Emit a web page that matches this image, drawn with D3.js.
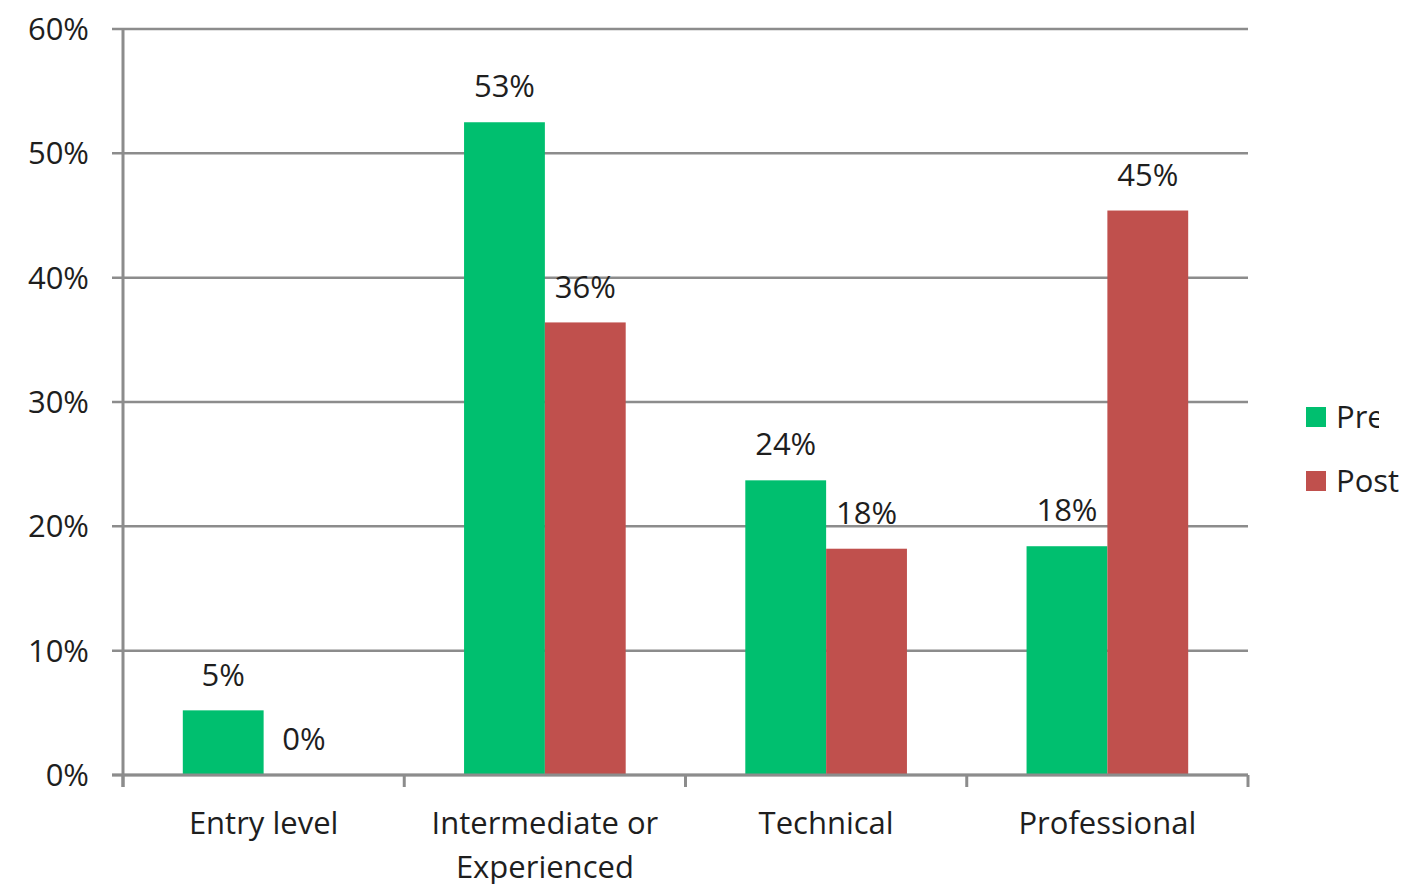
<!DOCTYPE html>
<html>
  <head>
    <title>Pre / Post</title>
    <script src="https://cdn.jsdelivr.net/npm/d3@7/dist/d3.min.js"></script>
    <style>
      body { margin: 0; background: #fff; }
      text { font-family: "Open Sans", sans-serif; fill: #1e1e1e; }
    </style>
  </head>
  <body>
    <svg width="1414" height="884"></svg>

    <script type="text/javascript">
      // data
      var categories = [["Entry level"], ["Intermediate or", "Experienced"], ["Technical"], ["Professional"]];
      var seriesNames = ["Pre", "Post"];
      var preValues = [5.2, 52.5, 23.7, 18.4];
      var postValues = [0, 36.4, 18.2, 45.4];
      var preLabels = ["5%", "53%", "24%", "18%"];
      var postLabels = ["0%", "36%", "18%", "45%"];
      var yTicks = [0, 10, 20, 30, 40, 50, 60];
      var colors = ["#00bf6f", "#c0504d"];

      var svg = d3.select("svg");
      var axisColor = "#8c8c8c";
      var fontSize = "31px";

      var xScale = d3.scaleBand().domain(d3.range(categories.length)).range([123, 1248]);
      var inner = d3.scaleBand().domain([0, 1]).range([0, xScale.bandwidth()]).paddingOuter(0.74).paddingInner(0);
      var yScale = d3.scaleLinear().domain([0, 60]).range([775, 29]);

      // gridlines
      svg.append("g")
        .selectAll("line")
        .data(yTicks)
        .enter()
        .append("line")
        .attr("x1", 112)
        .attr("x2", 1248)
        .attr("y1", function (d) { return yScale(d); })
        .attr("y2", function (d) { return yScale(d); })
        .attr("stroke", axisColor)
        .attr("stroke-width", 2.5);

      // y labels
      svg.append("g")
        .selectAll("text")
        .data(yTicks)
        .enter()
        .append("text")
        .attr("x", 89)
        .attr("y", function (d) { return yScale(d); })
        .attr("dy", "0.36em")
        .attr("text-anchor", "end")
        .style("font-size", fontSize)
        .text(function (d) { return d + "%"; });

      // left axis line
      svg.append("line")
        .attr("x1", 123).attr("x2", 123)
        .attr("y1", yScale(60)).attr("y2", 787)
        .attr("stroke", axisColor).attr("stroke-width", 3);

      // category boundary ticks
      svg.append("g")
        .selectAll("line")
        .data(d3.range(categories.length + 1))
        .enter()
        .append("line")
        .attr("x1", function (d) { return 123 + d * xScale.step(); })
        .attr("x2", function (d) { return 123 + d * xScale.step(); })
        .attr("y1", yScale(0))
        .attr("y2", 787)
        .attr("stroke", axisColor)
        .attr("stroke-width", 3);

      // bars
      var allSeries = [preValues, postValues];
      var allLabels = [preLabels, postLabels];
      allSeries.forEach(function (vals, s) {
        var g = svg.append("g");
        g.selectAll("rect")
          .data(vals)
          .enter()
          .append("rect")
          .attr("x", function (d, i) { return xScale(i) + inner(s); })
          .attr("width", inner.bandwidth())
          .attr("y", function (d) { return yScale(d); })
          .attr("height", function (d) { return yScale(0) - yScale(d); })
          .attr("fill", colors[s]);

        g.selectAll("text")
          .data(vals)
          .enter()
          .append("text")
          .attr("x", function (d, i) { return xScale(i) + inner(s) + inner.bandwidth() / 2; })
          .attr("y", function (d) { return yScale(d) - 36; })
          .attr("dy", "0.36em")
          .attr("text-anchor", "middle")
          .style("font-size", fontSize)
          .text(function (d, i) { return allLabels[s][i]; });
      });

      // bottom axis line on top of bars
      svg.append("line")
        .attr("x1", 112).attr("x2", 1248)
        .attr("y1", yScale(0)).attr("y2", yScale(0))
        .attr("stroke", axisColor).attr("stroke-width", 3);

      // category labels
      categories.forEach(function (lines, i) {
        var t = svg.append("text")
          .attr("x", xScale(i) + xScale.bandwidth() / 2)
          .attr("y", 823)
          .attr("text-anchor", "middle")
          .style("font-size", fontSize);
        lines.forEach(function (line, k) {
          t.append("tspan")
            .attr("x", xScale(i) + xScale.bandwidth() / 2)
            .attr("dy", k == 0 ? "0.36em" : "1.4em")
            .text(line);
        });
      });

      // legend (Pre is cut off at the right edge in the original)
      svg.append("clipPath").attr("id", "preclip")
        .append("rect").attr("x", 1300).attr("y", 390).attr("width", 79).attr("height", 50);

      seriesNames.forEach(function (name, s) {
        var y = 417 + s * 64;
        svg.append("rect")
          .attr("x", 1306).attr("y", y - 10)
          .attr("width", 20).attr("height", 20)
          .attr("fill", colors[s]);
        var t = svg.append("text")
          .attr("x", 1336).attr("y", y)
          .attr("dy", "0.36em")
          .style("font-size", fontSize)
          .text(name);
        if (s == 0) t.attr("clip-path", "url(#preclip)");
      });
    </script>
  </body>
</html>
